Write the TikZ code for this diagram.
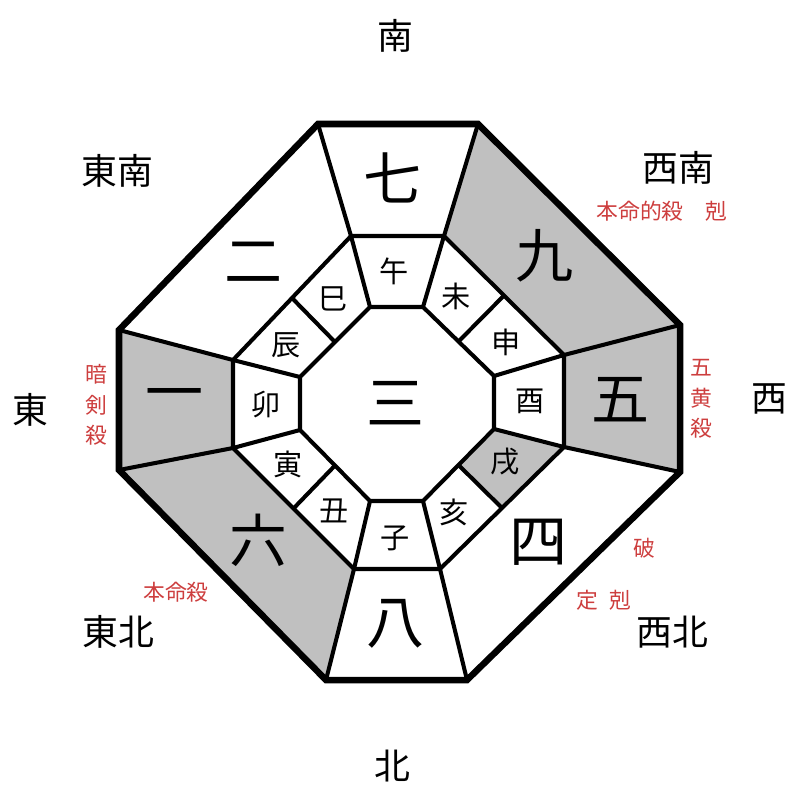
\documentclass[tikz,border=0pt]{standalone}
\usepackage{fontspec}
\newfontfamily\cjk{Noto Sans CJK JP}
\usetikzlibrary{calc}
\definecolor{cellgray}{RGB}{192,192,192}
\definecolor{markred}{RGB}{205,62,62}

\begin{document}
\begin{tikzpicture}[x=0.01cm, y=-0.01cm,
  rim/.style={line width=1.85pt, line join=miter},
  wall/.style={line width=1.15pt, line join=miter},
  dir/.style={font=\cjk\fontsize{10.2}{12}\selectfont, inner sep=0pt},
  star/.style={font=\cjk\fontsize{16.5}{18}\selectfont, inner sep=0pt},
  branch/.style={font=\cjk\fontsize{8.3}{10}\selectfont, inner sep=0pt},
  note/.style={font=\cjk\fontsize{6.2}{8.7}\selectfont, text=markred,
               inner sep=0pt, align=center}]
\useasboundingbox (0,0) rectangle (800,800);
% outer rim
\coordinate (O1) at (318,124); \coordinate (O2) at (478,124);
\coordinate (O3) at (680,325); \coordinate (O4) at (680,472);
\coordinate (O5) at (467,680); \coordinate (O6) at (326,680);
\coordinate (O7) at (119,470); \coordinate (O8) at (119,330);
% middle ring
\coordinate (M1) at (351,236); \coordinate (M2) at (444,236);
\coordinate (M3) at (564,355); \coordinate (M4) at (564,447);
\coordinate (M5) at (440,569); \coordinate (M6) at (354,569);
\coordinate (M7) at (233,448); \coordinate (M8) at (233,360);
% centre
\coordinate (I1) at (370,307); \coordinate (I2) at (423,307);
\coordinate (I3) at (494,376); \coordinate (I4) at (494,429);
\coordinate (I5) at (423,501); \coordinate (I6) at (370,501);
\coordinate (I7) at (300,430); \coordinate (I8) at (300,377);

% shaded cells
\fill[cellgray] (O2) -- (O3) -- (M3) -- (M2) -- cycle;
\fill[cellgray] (O3) -- (O4) -- (M4) -- (M3) -- cycle;
\fill[cellgray] (O6) -- (O7) -- (M7) -- (M6) -- cycle;
\fill[cellgray] (O7) -- (O8) -- (M8) -- (M7) -- cycle;
\fill[cellgray] (M4) -- ($(M4)!0.5!(M5)$) -- ($(I4)!0.5!(I5)$) -- (I4) -- cycle;

% rings and spokes
\draw[wall] (M1) -- (M2) -- (M3) -- (M4) -- (M5) -- (M6) -- (M7) -- (M8) -- cycle;
\draw[wall] (I1) -- (I2) -- (I3) -- (I4) -- (I5) -- (I6) -- (I7) -- (I8) -- cycle;
\draw[wall] (O1) -- (M1) -- (I1);
\draw[wall] (O2) -- (M2) -- (I2);
\draw[wall] (O3) -- (M3) -- (I3);
\draw[wall] (O4) -- (M4) -- (I4);
\draw[wall] (O5) -- (M5) -- (I5);
\draw[wall] (O6) -- (M6) -- (I6);
\draw[wall] (O7) -- (M7) -- (I7);
\draw[wall] (O8) -- (M8) -- (I8);
\draw[wall] ($(M2)!0.5!(M3)$) -- ($(I2)!0.5!(I3)$);
\draw[wall] ($(M4)!0.5!(M5)$) -- ($(I4)!0.5!(I5)$);
\draw[wall] ($(M6)!0.5!(M7)$) -- ($(I6)!0.5!(I7)$);
\draw[wall] ($(M8)!0.5!(M1)$) -- ($(I8)!0.5!(I1)$);
\draw[rim] (O1) -- (O2) -- (O3) -- (O4) -- (O5) -- (O6) -- (O7) -- (O8) -- cycle;

% directions
\node[dir] (s)  at (395,36)  {南};
\node[dir] (se) at (117,171) {東南};
\node[dir] (sw) at (678,168) {西南};
\node[dir] (e)  at (30,410)  {東};
\node[dir] (w)  at (769,399) {西};
\node[dir] (ne) at (118,632) {東北};
\node[dir] (nw) at (672,632) {西北};
\node[dir] (n)  at (392,766) {北};

% stars
\node[star] (st7) at (393,178) {七};
\node[star] (st9) at (545,256) {九};
\node[star] (st5) at (621,400) {五};
\node[star] (st4) at (539,542) {四};
\node[star] (st8) at (396,624) {八};
\node[star] (st6) at (259,540) {六};
\node[star] (st1) at (175,401) {一};
\node[star] (st2) at (254,262) {二};
\node[star] (st3) at (396,403) {三};

% branches
\node[branch] (wu)   at (394,271) {午};
\node[branch] (wei)  at (456,296) {未};
\node[branch] (shen) at (506,342) {申};
\node[branch] (you)  at (530,401) {酉};
\node[branch] (xu)   at (505,462) {戌};
\node[branch] (hai)  at (454,512) {亥};
\node[branch] (zi)   at (395,538) {子};
\node[branch] (chou) at (334,511) {丑};
\node[branch] (yin)  at (288,464) {寅};
\node[branch] (mao)  at (266,405) {卯};
\node[branch] (chen) at (286,345) {辰};
\node[branch] (si)   at (333,299) {巳};

% red marks
\node[note] (hms)  at (640,211) {本命的殺};
\node[note] (kk1)  at (716,211) {剋};
\node[note] (gos)  at (701,399) {五\\黄\\殺};
\node[note] (ans)  at (96,405)  {暗\\剣\\殺};
\node[note] (hms2) at (176,592) {本命殺};
\node[note] (ha)   at (644,548) {破};
\node[note] (tei)  at (587,600) {定};
\node[note] (kk2)  at (620,600) {剋};
\end{tikzpicture}
\end{document}
